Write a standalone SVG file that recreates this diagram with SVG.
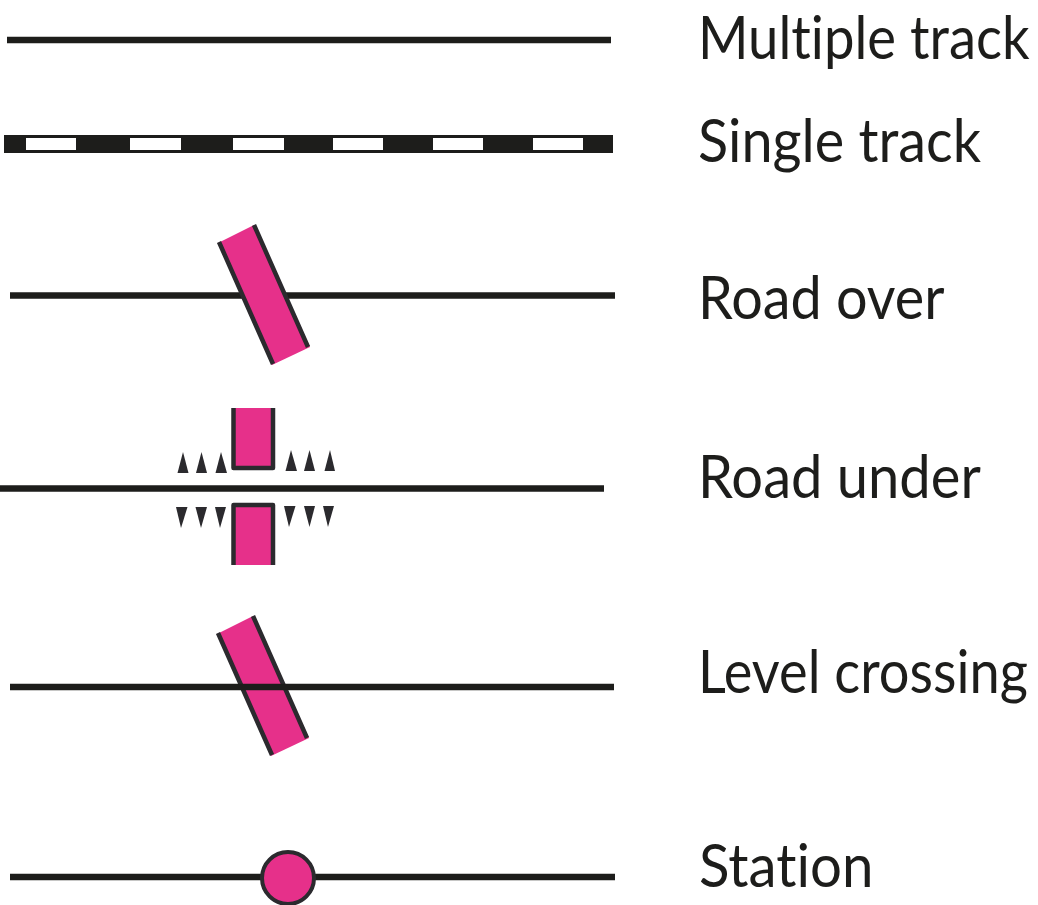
<svg xmlns="http://www.w3.org/2000/svg" width="1038" height="905" viewBox="0 0 1038 905">
<style>
.track{stroke:#1d1d1b;stroke-width:6.5;fill:none}
.road{fill:#e6308a}
.edge{stroke:#2b2a2e;stroke-width:4.500;fill:none}
.tri{fill:#2b2a2e}
.label{font-family:"Lato","Noto Sans",sans-serif;font-size:60px;fill:#1d1d1b;font-variant-ligatures:none}
</style>
<rect width="1038" height="905" fill="#fff"/>
<g id="connectors">
<path class="track" d="M7 40H611"/>
<g id="single-track">
<rect x="4" y="135" width="609" height="18" fill="#1d1d1b"/>
<g fill="#fff">
<rect x="26" y="138" width="50" height="12"/>
<rect x="130" y="138" width="51" height="12"/>
<rect x="233" y="138" width="51" height="12"/>
<rect x="333" y="138" width="50" height="12"/>
<rect x="433" y="138" width="50" height="12"/>
<rect x="533" y="138" width="50" height="12"/>
</g>
</g>
</g>
<g id="road-over">
<path class="track" d="M10 295.500H615"/>
<polygon class="road" points="218,243 254,225 310,347 272,365"/>
<path class="edge" d="M219 242L273 364M254 225L308 347"/>
</g>
<g id="road-under">
<path class="track" d="M0 488.500H604"/>
<path class="road" d="M233 408H274V469H233Z"/>
<path class="edge" stroke-linejoin="round" d="M233.500 408V468H273V408"/>
<path class="road" d="M233 504H274V565H233Z"/>
<path class="edge" stroke-linejoin="round" d="M233.500 565V505H273V565"/>
<g class="tri">
<polygon points="177.500,473 188.500,473 183,452"/>
<polygon points="196,473 207,473 201.500,452"/>
<polygon points="215.500,473 227,473 221,452"/>
<polygon points="285.500,471 297,471 291,450"/>
<polygon points="304,471 315,471 309.500,450"/>
<polygon points="324.500,471 335,471 330,450"/>
<polygon points="176,507 187.500,507 181,528"/>
<polygon points="195.500,507 207,507 201,528"/>
<polygon points="215,507 226,507 220,528"/>
<polygon points="284,506 295.500,506 289,527"/>
<polygon points="304,506 315,506 309.500,527"/>
<polygon points="323,506 334,506 328,527"/>
</g>
</g>
<g id="level-crossing">
<polygon class="road" points="217,634 253,616 309,738 271,756"/>
<path class="edge" d="M218 633L272 755M253 616L307 738"/>
<path class="track" d="M10 687H614"/>
</g>
<g id="station">
<path class="track" d="M10 877H615"/>
<circle cx="288" cy="878" r="26" fill="#e6308a" stroke="#2b2a2e" stroke-width="4"/>
</g>
<g id="labels">
<text class="label" transform="translate(698 59) scale(.908 1)">Multiple track</text>
<text class="label" transform="translate(698 162) scale(.93 1)">Single track</text>
<text class="label" transform="translate(698 319) scale(.93 1)">Road over</text>
<text class="label" transform="translate(698 498) scale(.935 1)">Road under</text>
<text class="label" transform="translate(698 693) scale(.903 1)">Level crossing</text>
<text class="label" transform="translate(699 887) scale(.94 1)">Station</text>
</g>
</svg>
